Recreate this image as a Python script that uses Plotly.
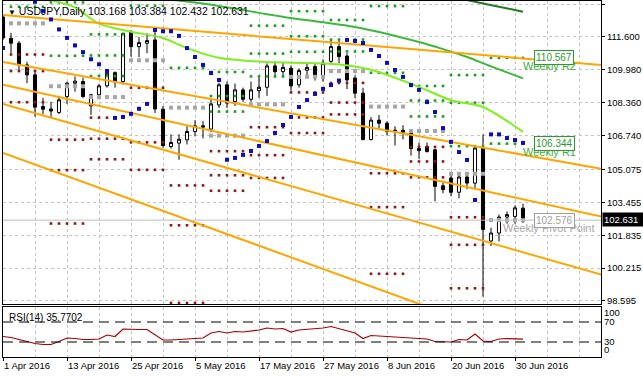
import plotly.graph_objects as go
import pandas as pd

# ---------------- data ----------------
dates = pd.bdate_range("2016-04-01", "2016-07-01")

opens = [112.58, 111.53, 111.29, 110.22, 109.73, 108.17, 108.05, 107.88, 108.66, 109.32,
         109.40, 108.20, 108.75, 109.19, 109.84, 109.40, 111.86, 111.12, 111.29, 111.45,
         108.04, 106.20, 106.37, 106.53, 106.94, 107.22, 107.06, 108.25, 109.24, 108.42,
         108.99, 108.53, 108.95, 109.12, 110.17, 109.89, 110.06, 109.24, 109.96, 110.14,
         109.65, 110.40, 111.12, 110.66, 109.57, 108.83, 106.55, 107.50, 107.35, 106.95,
         107.00, 106.90, 106.10, 106.20, 106.04, 104.27, 104.65, 103.95, 104.70, 104.40,
         106.13, 101.55, 101.94, 102.73, 102.76, 103.168]
highs = [112.70, 111.80, 111.40, 110.38, 109.90, 108.60, 108.40, 108.70, 109.40, 109.65,
         109.60, 108.80, 109.30, 109.85, 109.90, 111.80, 111.94, 111.60, 111.78, 111.88,
         108.20, 106.80, 106.80, 107.20, 107.50, 107.45, 108.50, 109.35, 109.40, 109.30,
         109.10, 109.40, 109.60, 110.30, 110.40, 110.35, 110.20, 110.05, 110.35, 110.30,
         110.50, 111.45, 111.40, 110.80, 109.70, 109.10, 107.65, 107.75, 107.45, 107.20,
         107.25, 107.00, 106.40, 106.40, 106.10, 104.50, 104.85, 104.85, 104.85, 106.20,
         106.799, 102.20, 102.85, 103.00, 103.30, 103.384]
lows = [111.45, 110.80, 109.90, 109.32, 107.67, 107.80, 107.60, 107.80, 108.30, 108.90,
        108.60, 107.76, 108.60, 109.10, 109.10, 109.25, 110.63, 110.60, 110.80, 107.85,
        106.15, 106.10, 105.55, 106.30, 106.70, 106.60, 106.90, 108.10, 108.10, 108.20,
        108.40, 108.40, 108.60, 108.70, 109.60, 109.60, 108.95, 109.10, 109.60, 109.45,
        109.40, 110.30, 110.30, 109.03, 108.58, 106.50, 106.50, 107.10, 106.75, 106.25,
        106.55, 105.75, 105.60, 105.90, 103.50, 103.90, 103.75, 103.65, 104.10, 104.10,
        98.808, 101.30, 101.53, 102.40, 102.40, 102.432]
closes = [111.55, 111.29, 110.22, 109.73, 108.14, 108.04, 107.95, 108.50, 109.32, 109.42,
          108.66, 108.75, 109.19, 109.81, 109.40, 111.78, 111.12, 111.32, 111.42, 108.05,
          106.25, 106.40, 106.56, 106.94, 107.22, 107.16, 108.30, 109.24, 108.34, 108.99,
          108.53, 108.99, 109.12, 110.17, 109.89, 110.10, 109.19, 109.94, 110.10, 109.73,
          110.30, 111.12, 110.63, 109.48, 108.83, 106.55, 107.50, 107.35, 106.95, 107.00,
          106.90, 106.10, 106.00, 105.96, 104.24, 104.08, 103.95, 104.70, 104.40, 106.13,
          102.121, 101.94, 102.73, 102.85, 103.18, 102.631]

# the part of the week of 28 Mar that precedes 1 Apr
prior_week_high = 113.80
prior_week_low = 111.45

# Parabolic SAR (None = not visible)
sar = [111.05, None, None, None, 113.33, 112.88, 112.46, 111.97, 111.55, 111.18,
       110.85, 110.50, 110.25, 109.92, 107.61, 107.66, 107.81, 108.06, 108.30, 111.94,
       111.88, 111.88, 111.65, 111.05, 110.61, 110.22, 109.82, 109.48, 105.55, 105.64,
       105.79, 105.98, 106.23, 106.47, 106.87, 107.26, 107.66, 108.15, 108.49, 108.79,
       109.04, 109.23, 109.45, 111.45, 111.40, 111.30, 110.96, 110.66, 110.32, 109.97,
       109.63, 109.23, 108.99, 108.39, 107.90, 107.11, 106.43, 105.93, 105.54, 103.57,
       None, 106.80, 106.80, 106.62, 106.52, 106.38]

# RSI(14)
rsi = [41, 39, 35, 31, 27, 25, 25, 31, 38, 37,
       35, 35, 36, 44, 41, 56, 55, 55, 55, 44,
       34, 34, 35, 37, 38, 38, 48, 51, 48, 51,
       50, 52, 54, 58, 56, 57, 50, 54, 55, 56,
       58, 61, 57, 52, 48, 37, 43, 42, 41, 40,
       38, 37, 37, 36, 31, 30, 30, 35, 34, 46,
       32, 31, 36, 37, 37, 35.7702]
rsi_levels = [70, 30]

# moving averages (bar index, price)
ma_lime_idx = [6, 9, 12, 16, 20, 23, 27, 33, 38, 42, 46, 52, 56, 60, 65]
ma_lime = [113.40, 113.05, 112.25, 111.85, 111.55, 111.05, 110.57, 110.36, 110.31, 110.24,
           109.98, 109.14, 108.48, 108.15, 106.92]
ma_mid_idx = [20, 25, 36, 44, 52, 55, 58, 61, 65]
ma_mid = [113.47, 113.24, 112.53, 112.09, 111.35, 111.00, 110.61, 110.15, 109.56]
ma_dark_idx = [56, 60, 65]
ma_dark = [113.58, 113.25, 112.84]

# orange trend lines: price at bar 0 and at bar 75
trend_idx = [0, 75]
trend_lines = [(112.68, 110.21), (110.37, 105.09), (109.24, 102.73),
               (108.30, 99.87), (105.89, 95.17)]

# current weekly levels (labels)
weekly_r2 = 110.567
weekly_r1 = 106.344
weekly_pivot = 102.576

price_ticks = [113.220, 111.600, 109.980, 108.360, 106.740, 105.075,
               103.455, 101.835, 100.215, 98.595]
rsi_tick_text = ["100", "70", "30", "0"]

# ---------------- figure ----------------
xs = list(range(len(dates)))
fig = go.Figure()

fig.add_trace(go.Candlestick(
    x=xs, open=opens, high=highs, low=lows, close=closes,
    increasing=dict(line=dict(color="black", width=1), fillcolor="white"),
    decreasing=dict(line=dict(color="black", width=1), fillcolor="black"),
    whiskerwidth=0, showlegend=False, hoverinfo="skip", xaxis="x", yaxis="y"))

# weekly pivot dots
df = pd.DataFrame({"d": dates, "h": highs, "l": lows, "c": closes, "i": xs})
df["wk"] = df["d"].dt.to_period("W-SUN")
groups = [g for _, g in df.groupby("wk", sort=True)]
Px, Py, Rx, Ry, Sx, Sy = [], [], [], [], [], []
for k in range(1, len(groups)):
    prev = groups[k - 1]
    H = prev["h"].max()
    L = prev["l"].min()
    if k == 1:
        H = max(H, prior_week_high)
        L = min(L, prior_week_low)
    C = prev["c"].iloc[-1]
    P = (H + L + C) / 3
    R = [2 * P - L, P + (H - L), H + 2 * (P - L)]
    S = [2 * P - H, P - (H - L), L - 2 * (H - P)]
    for i in groups[k]["i"]:
        Px.append(i); Py.append(P)
        for r in R:
            Rx.append(i); Ry.append(r)
        for s in S:
            Sx.append(i); Sy.append(s)

fig.add_trace(go.Scatter(x=Px, y=Py, mode="markers", hoverinfo="skip",
                         marker=dict(symbol="square", size=4, color="#a6a6a6")))
fig.add_trace(go.Scatter(x=Rx, y=Ry, mode="markers", hoverinfo="skip",
                         marker=dict(symbol="square", size=2.6, color="#1e9e1e")))
fig.add_trace(go.Scatter(x=Sx, y=Sy, mode="markers", hoverinfo="skip",
                         marker=dict(symbol="square", size=2.6, color="#8b1a1a")))

# moving averages
for ix, vals, col in [(ma_dark_idx, ma_dark, "#1f7a1f"),
                      (ma_mid_idx, ma_mid, "#3cb83c"),
                      (ma_lime_idx, ma_lime, "#7fef1f")]:
    fig.add_trace(go.Scatter(x=ix, y=vals, mode="lines", hoverinfo="skip",
                             line=dict(color=col, width=2, shape="spline", smoothing=0.8)))

# trend lines
for a, b in trend_lines:
    fig.add_trace(go.Scatter(x=trend_idx, y=[a, b], mode="lines", hoverinfo="skip",
                             line=dict(color="#ffa500", width=2)))

# parabolic SAR
fig.add_trace(go.Scatter(x=xs, y=sar, mode="markers", hoverinfo="skip",
                         marker=dict(symbol="square", size=4, color="#0c0cc8")))

# RSI
fig.add_trace(go.Scatter(x=xs, y=rsi, mode="lines", hoverinfo="skip",
                         line=dict(color="#a80000", width=1.2), xaxis="x2", yaxis="y2"))

shapes = []
for lv in rsi_levels:
    shapes.append(dict(type="line", xref="x2 domain", x0=0, x1=1, yref="y2", y0=lv, y1=lv,
                       line=dict(color="black", width=1, dash="10px,6px")))
shapes.append(dict(type="line", xref="x domain", x0=0, x1=1, yref="y", y0=weekly_pivot,
                   y1=weekly_pivot, line=dict(color="#bdbdbd", width=1)))

grid = dict(showgrid=True, gridcolor="#c4c4c4", griddash="3px,3px", gridwidth=1)
font = "Liberation Sans"

annotations = []
title_txt = ("<span style='font-size:8px'>\u25BC</span> USDJPY,Daily "
             f"{opens[-1]:.3f} {highs[-1]:.3f} {lows[-1]:.3f} {closes[-1]:.3f}")
annotations.append(dict(text=title_txt, xref="paper", yref="paper", x=0, y=1,
                        xanchor="left", yanchor="top", xshift=3, yshift=-2, showarrow=False,
                        font=dict(family=font, size=10.5, color="black")))
annotations.append(dict(text=f"RSI(14) {rsi[-1]:.4f}", xref="paper", yref="paper", x=0,
                        y=0.1404, xanchor="left", yanchor="top", xshift=4, yshift=-3,
                        showarrow=False, font=dict(family=font, size=10, color="black")))
annotations.append(dict(text=f"{closes[-1]:.3f}", xref="paper", yref="y", x=1, y=closes[-1],
                        xanchor="left", yanchor="middle", xshift=1, showarrow=False,
                        bgcolor="black", width=38, borderpad=1, align="left",
                        font=dict(family=font, size=9.5, color="white")))
for lvl, name, col, tcol in [(weekly_r2, "Weekly R2", "#2e9a2e", "#3fae3f"),
                             (weekly_r1, "Weekly R1", "#2e9a2e", "#3fae3f"),
                             (weekly_pivot, "Weekly Pivot Point", "#a0a0a0", "#a8a8a8")]:
    annotations.append(dict(text=name, xref="x", yref="y", x=68.3, y=lvl, xanchor="center",
                            yanchor="middle", yshift=-8, showarrow=False,
                            font=dict(family=font, size=11, color=tcol)))
    annotations.append(dict(text=f"{lvl:.3f}", xref="x", yref="y", x=66.4, y=lvl,
                            xanchor="left", yanchor="middle", showarrow=False, bgcolor="white",
                            bordercolor=col, borderwidth=1, borderpad=1,
                            font=dict(family=font, size=10, color=col)))

axis_font = dict(family=font, size=9.5, color="black")
fig.update_layout(
    width=643, height=378, margin=dict(l=3, r=42, t=1, b=21, autoexpand=False),
    paper_bgcolor="white", plot_bgcolor="white", showlegend=False, boxgap=0.45,
    font=dict(family=font, size=10, color="black"),
    shapes=shapes, annotations=annotations,
    xaxis=dict(domain=[0, 1], anchor="y", range=[0, 74.75], tickvals=list(range(0, 76, 4)),
               showticklabels=False, ticks="", showline=True, mirror=True, linecolor="black",
               linewidth=1, zeroline=False, automargin=False,
               rangeslider=dict(visible=False), **grid),
    yaxis=dict(domain=[0.1489, 1], anchor="x", range=[98.447, 113.368], side="right",
               tickvals=price_ticks, ticktext=[f"{v:.3f}" for v in price_ticks],
               ticks="outside", ticklen=3, tickcolor="black", showline=True, mirror=True,
               linecolor="black", linewidth=1, zeroline=False, automargin=False,
               tickfont=axis_font, **grid),
    xaxis2=dict(domain=[0, 1], anchor="y2", matches="x", tickvals=xs[::8],
                ticktext=[f"{d.day} {d.strftime('%b %Y')}" for d in dates[::8]],
                tickangle=0, ticks="outside", ticklen=3, tickcolor="black",
                ticklabelposition="outside right", tickfont=axis_font,
                showline=True, mirror=True, linecolor="black", linewidth=1, zeroline=False,
                automargin=False,
                minor=dict(tickvals=list(range(0, 76, 4)), showgrid=True, gridcolor="#c4c4c4",
                           griddash="3px,3px", ticks=""),
                **grid),
    yaxis2=dict(domain=[0, 0.1404], anchor="x2", range=[0, 100], side="right",
                tickvals=[88, 70, 30, 14], ticktext=rsi_tick_text, ticks="",
                tickfont=axis_font, showgrid=False, showline=True, mirror=True,
                linecolor="black", linewidth=1, zeroline=False, automargin=False),
)

fig.write_html("out.html", config={"displayModeBar": False},
               post_script="document.body.style.margin='0';document.body.style.padding='0';")
